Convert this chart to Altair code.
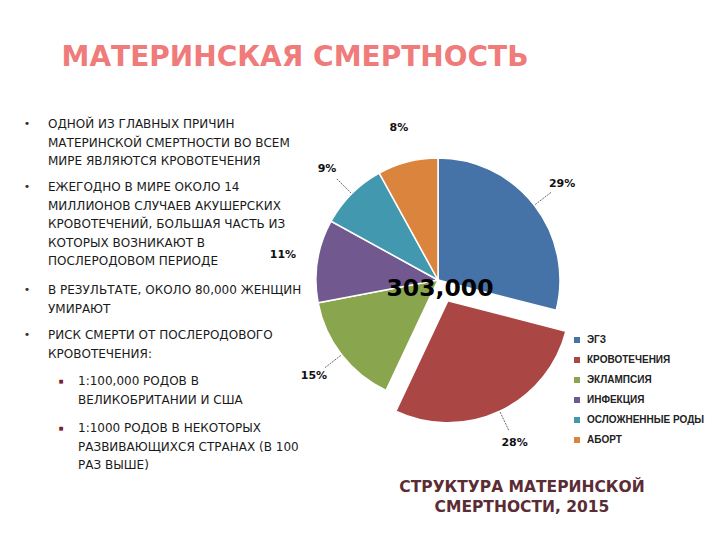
import math
import altair as alt
import pandas as pd

# ---------------- data ----------------
categories = ["ЭГЗ", "КРОВОТЕЧЕНИЯ", "ЭКЛАМПСИЯ", "ИНФЕКЦИЯ", "ОСЛОЖНЕННЫЕ РОДЫ", "АБОРТ"]
shares = [29, 28, 15, 11, 9, 8]
colors = ["#4572A7", "#AA4643", "#89A54E", "#71588F", "#4198AF", "#DB843D"]
total_text = "303,000"
exploded = "КРОВОТЕЧЕНИЯ"
no_leader = ["ИНФЕКЦИЯ", "АБОРТ"]

title_text = "МАТЕРИНСКАЯ СМЕРТНОСТЬ"
bullet_blocks = [
    ["ОДНОЙ ИЗ ГЛАВНЫХ ПРИЧИН", "МАТЕРИНСКОЙ СМЕРТНОСТИ ВО ВСЕМ", "МИРЕ ЯВЛЯЮТСЯ КРОВОТЕЧЕНИЯ"],
    ["ЕЖЕГОДНО В МИРЕ ОКОЛО 14", "МИЛЛИОНОВ СЛУЧАЕВ АКУШЕРСКИХ", "КРОВОТЕЧЕНИЙ, БОЛЬШАЯ ЧАСТЬ ИЗ",
     "КОТОРЫХ ВОЗНИКАЮТ В", "ПОСЛЕРОДОВОМ ПЕРИОДЕ"],
    ["В РЕЗУЛЬТАТЕ, ОКОЛО 80,000 ЖЕНЩИН", "УМИРАЮТ"],
    ["РИСК СМЕРТИ ОТ ПОСЛЕРОДОВОГО", "КРОВОТЕЧЕНИЯ:"],
]
sub_blocks = [
    ["1:100,000 РОДОВ В", "ВЕЛИКОБРИТАНИИ И США"],
    ["1:1000 РОДОВ В НЕКОТОРЫХ", "РАЗВИВАЮЩИХСЯ СТРАНАХ (В 100", "РАЗ ВЫШЕ)"],
]
caption_lines = ["СТРУКТУРА МАТЕРИНСКОЙ", "СМЕРТНОСТИ, 2015"]

# ---------------- layout / style ----------------
W, H = 720, 540
CX, CY, R = 438, 280, 122
EXPLODE = 23
LABEL_R = 157
bullet_baselines = [128, 191, 294, 339]
sub_baselines = [385, 432]
LINE_H = 18.6
TEXT_FONT = "DejaVu Sans"

df = pd.DataFrame({"category": categories, "share": shares, "idx": list(range(len(categories)))})

xs = alt.Scale(domain=[0, W], range=[0, W], nice=False, zero=False)
ys = alt.Scale(domain=[0, H], range=[0, H], nice=False, zero=False)
theta_scale = alt.Scale(domain=[0, 100], range=[0, 2 * math.pi])
color_scale = alt.Scale(domain=categories, range=colors)

base = (
    alt.Chart(df)
    .transform_window(cum="sum(share)", sort=[alt.SortField("idx")], frame=[None, 0])
    .transform_calculate(
        start="datum.cum - datum.share",
        ang="(datum.cum - datum.share / 2) / 100 * 2 * PI",
        label="datum.share + '%'",
    )
    .transform_calculate(
        cx=f"{CX} + (datum.category === '{exploded}' ? sin(datum.ang) * {EXPLODE} : 0)",
        cy=f"{CY} - (datum.category === '{exploded}' ? cos(datum.ang) * {EXPLODE} : 0)",
    )
    .transform_calculate(
        lx=f"datum.cx + sin(datum.ang) * {LABEL_R}",
        ly=f"datum.cy - cos(datum.ang) * {LABEL_R}",
        l1x=f"datum.cx + sin(datum.ang) * {R + 1}",
        l1y=f"datum.cy - cos(datum.ang) * {R + 1}",
        l2x=f"datum.cx + sin(datum.ang) * {R + 22}",
        l2y=f"datum.cy - cos(datum.ang) * {R + 22}",
    )
)

pie = base.mark_arc(outerRadius=R, stroke="white", strokeWidth=1.5).encode(
    theta=alt.Theta("start:Q", scale=theta_scale, stack=False),
    theta2="cum:Q",
    x=alt.X("cx:Q", scale=xs, axis=None),
    y=alt.Y("cy:Q", scale=ys, axis=None),
    color=alt.Color(
        "category:N",
        scale=color_scale,
        sort=categories,
        legend=alt.Legend(
            orient="none", legendX=572, legendY=335, title=None,
            symbolType="square", symbolSize=36, symbolStrokeWidth=0,
            labelFont="Liberation Sans", labelFontWeight="bold", labelFontSize=10,
            labelColor="#222222", rowPadding=10, labelOffset=5,
        ),
    ),
)

leaders = (
    base.transform_filter(alt.FieldOneOfPredicate(field="category", oneOf=no_leader).__invert__())
    .mark_rule(color="#444444", strokeWidth=0.8, strokeDash=[2, 1])
    .encode(
        x=alt.X("l1x:Q", scale=xs, axis=None),
        y=alt.Y("l1y:Q", scale=ys, axis=None),
        x2="l2x:Q",
        y2="l2y:Q",
    )
)

labels = base.mark_text(
    font=TEXT_FONT, fontWeight="bold", fontSize=11, color="#111111",
    align="center", baseline="middle",
).encode(
    x=alt.X("lx:Q", scale=xs, axis=None),
    y=alt.Y("ly:Q", scale=ys, axis=None),
    text="label:N",
)

center_txt = alt.Chart(pd.DataFrame({"t": [total_text]})).mark_text(
    font=TEXT_FONT, fontWeight="bold", fontSize=23.5, color="#000000",
    align="center", baseline="alphabetic",
).encode(text="t:N", x=alt.value(440), y=alt.value(296))

title = alt.Chart(pd.DataFrame({"t": [title_text]})).mark_text(
    font=TEXT_FONT, fontWeight="bold", fontSize=28, color="#EF7B7A",
    align="center", baseline="alphabetic",
).encode(text="t:N", x=alt.value(295), y=alt.value(66))

layers = [pie, leaders, labels, center_txt, title]

for block, yb in zip(bullet_blocks, bullet_baselines):
    layers.append(
        alt.Chart(pd.DataFrame({"t": ["\n".join(block)]})).mark_text(
            font=TEXT_FONT, fontSize=12, color="#1a1a1a", align="left",
            baseline="alphabetic", lineBreak="\n", lineHeight=LINE_H,
        ).encode(text="t:N", x=alt.value(48), y=alt.value(yb))
    )
    layers.append(
        alt.Chart(pd.DataFrame({"t": ["•"]})).mark_text(
            font=TEXT_FONT, fontSize=11, color="#333333", align="center", baseline="middle",
        ).encode(text="t:N", x=alt.value(27), y=alt.value(yb - 4.5))
    )

for block, yb in zip(sub_blocks, sub_baselines):
    layers.append(
        alt.Chart(pd.DataFrame({"t": ["\n".join(block)]})).mark_text(
            font=TEXT_FONT, fontSize=12, color="#1a1a1a", align="left",
            baseline="alphabetic", lineBreak="\n", lineHeight=LINE_H,
        ).encode(text="t:N", x=alt.value(78), y=alt.value(yb))
    )
    layers.append(
        alt.Chart(pd.DataFrame({"t": ["■"]})).mark_text(
            font=TEXT_FONT, fontSize=5, color="#7A1F2B", align="center", baseline="middle",
        ).encode(text="t:N", x=alt.value(61), y=alt.value(yb - 4.5))
    )

caption = alt.Chart(pd.DataFrame({"t": ["\n".join(caption_lines)]})).mark_text(
    font=TEXT_FONT, fontWeight="bold", fontSize=15.5, color="#5B2C33",
    align="center", baseline="alphabetic", lineBreak="\n", lineHeight=20,
).encode(text="t:N", x=alt.value(522), y=alt.value(492))
layers.append(caption)

chart = (
    alt.layer(*layers)
    .properties(width=W, height=H, autosize=alt.AutoSizeParams(type="none"), padding=0, background="white")
    .configure_view(stroke=None)
)

chart.save("out.html", embed_options={"renderer": "svg", "actions": False})
